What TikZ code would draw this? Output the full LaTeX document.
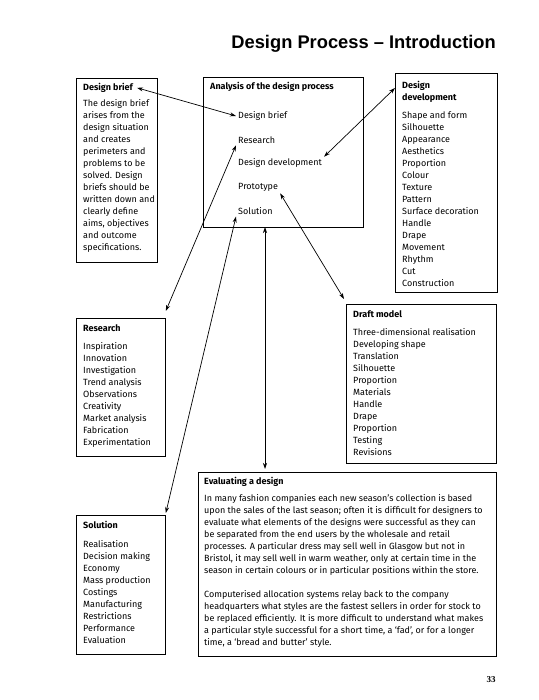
\documentclass[tikz,border=0pt]{standalone}
\usepackage{fontspec}
\setmainfont{Fira Sans}
\newfontfamily\headfont{Liberation Sans}
\newfontfamily\pagefont{Liberation Serif}
\usetikzlibrary{arrows.meta, positioning}

\begin{document}
\begin{tikzpicture}[x=1pt, y=-1pt,
    panel/.style={draw, line width=0.8pt, anchor=north west, inner sep=0pt},
    paneltitle/.style={font=\fontsize{9}{12}\selectfont\bfseries, align=left, inner sep=0pt},
    panellist/.style={font=\fontsize{9}{12}\selectfont, align=left, inner sep=0pt},
    item/.style={font=\fontsize{9}{12}\selectfont, anchor=west, inner sep=2pt},
    link/.style={{Stealth[length=6pt,width=4pt]}-{Stealth[length=6pt,width=4pt]}, line width=0.7pt}]
    \useasboundingbox (0,0) rectangle (538,700);

    \node[anchor=base east, inner sep=0pt, font={\headfont\bfseries\fontsize{18.3}{22}\selectfont}] (title) at (496,49) {Design Process – Introduction};

    % boxes
    \node[panel, minimum width=81, minimum height=184] (brief) at (76,78) {};
    \node[panel, minimum width=160, minimum height=150] (analysis) at (203,77) {};
    \node[panel, minimum width=102, minimum height=219] (dev) at (395,73) {};
    \node[panel, minimum width=89, minimum height=138] (research) at (76,318) {};
    \node[panel, minimum width=150, minimum height=159] (draft) at (346,304) {};
    \node[panel, minimum width=89, minimum height=139] (solution) at (76,515) {};
    \node[panel, minimum width=298, minimum height=184] (eval) at (198,472) {};

    % design brief
    \node[paneltitle, below right=5pt and 7pt of brief.north west] (brieftitle) {Design brief};
    \node[panellist, below right=21pt and 7pt of brief.north west] (brieftext) {The design brief\\arises from the\\design situation\\and creates\\perimeters and\\problems to be\\solved. Design\\briefs should be\\written down and\\clearly define\\aims, objectives\\and outcome\\specifications.};

    % analysis
    \node[paneltitle, below right=5pt and 7pt of analysis.north west] (analysistitle) {Analysis of the design process};
    \foreach \nm/\txt [count=\i from 0] in {abrief/Design brief, aresearch/Research, adev/Design development, aproto/Prototype, asol/Solution}
        \node[item] (\nm) at (236,116+23.7*\i) {\txt};

    % design development
    \node[paneltitle, below right=8pt and 7pt of dev.north west] (devtitle) {Design\\development};
    \node[panellist, below right=39pt and 7pt of dev.north west] (devtext) {Shape and form\\Silhouette\\Appearance\\Aesthetics\\Proportion\\Colour\\Texture\\Pattern\\Surface decoration\\Handle\\Drape\\Movement\\Rhythm\\Cut\\Construction};

    % research
    \node[paneltitle, below right=6pt and 7pt of research.north west] (researchtitle) {Research};
    \node[panellist, below right=24pt and 7pt of research.north west] (researchtext) {Inspiration\\Innovation\\Investigation\\Trend analysis\\Observations\\Creativity\\Market analysis\\Fabrication\\Experimentation};

    % draft model
    \node[paneltitle, below right=6pt and 7pt of draft.north west] (drafttitle) {Draft model};
    \node[panellist, below right=24pt and 7pt of draft.north west] (drafttext) {Three-dimensional realisation\\Developing shape\\Translation\\Silhouette\\Proportion\\Materials\\Handle\\Drape\\Proportion\\Testing\\Revisions};

    % solution
    \node[paneltitle, below right=6pt and 7pt of solution.north west] (solutiontitle) {Solution};
    \node[panellist, below right=25pt and 7pt of solution.north west] (solutiontext) {Realisation\\Decision making\\Economy\\Mass production\\Costings\\Manufacturing\\Restrictions\\Performance\\Evaluation};

    % evaluating
    \node[paneltitle, below right=5pt and 6pt of eval.north west] (evaltitle) {Evaluating a design};
    \node[panellist, below right=22pt and 6pt of eval.north west] (evaltext) {In many fashion companies each new season’s collection is based\\upon the sales of the last season; often it is difficult for designers to\\evaluate what elements of the designs were successful as they can\\be separated from the end users by the wholesale and retail\\processes. A particular dress may sell well in Glasgow but not in\\Bristol, it may sell well in warm weather, only at certain time in the\\season in certain colours or in particular positions within the store.\\[12pt]Computerised allocation systems relay back to the company\\headquarters what styles are the fastest sellers in order for stock to\\be replaced efficiently. It is more difficult to understand what makes\\a particular style successful for a short time, a ‘fad’, or for a longer\\time, a ‘bread and butter’ style.};

    \node[font={\pagefont\bfseries\fontsize{9}{11}\selectfont}] (page) at (491,680) {33};

    % links
    \coordinate (vtop) at (265,227);
    \draw[link] ([xshift=4pt]brieftitle.east) -- (abrief.west);
    \draw[link] ([yshift=7pt]research.north east) -- (aresearch.south west);
    \draw[link] (adev.north east) -- ([yshift=-15pt]dev.north west);
    \draw[link] (aproto.south east) -- ([shift={(-2pt,5pt)}]draft.north west);
    \draw[link] (asol.south west) -- ([yshift=2pt]solution.north east);
    \draw[link] (vtop) -- ([yshift=3pt]vtop |- eval.north);
\end{tikzpicture}
\end{document}
